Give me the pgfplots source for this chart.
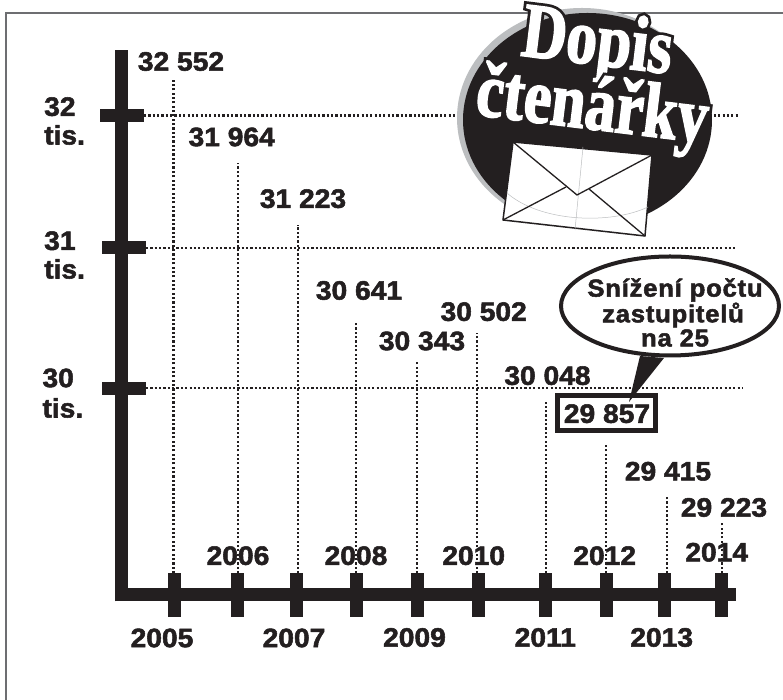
\documentclass[border=0pt]{standalone}
\usepackage{fontspec}
\usepackage{pgfplots}
\usepackage{pgfplotstable}
\pgfplotsset{compat=1.18}
\newfontfamily\lf[FakeStretch=1.06,FakeBold=2]{Liberation Sans}
\newfontfamily\cf[FakeStretch=1.05,FakeBold=2,LetterSpace=3]{Liberation Sans}
\newfontfamily\tfa[FakeStretch=0.79,FakeBold=2]{Liberation Serif}
\newfontfamily\tfb[FakeStretch=0.79,FakeBold=9]{Liberation Serif}
\definecolor{ink}{HTML}{231F20}
\definecolor{halo}{HTML}{BCBEC0}
\definecolor{frame}{HTML}{6D6E71}

% x is the position along the axis, top is the height of the dotted line read against the ticks
\pgfplotstableread{
year dotx top
2005 173.5 32260
2006 238.0 31651
2007 298.0 31196
2008 356.0 30477
2009 416.7 30198
2010 477.0 30404
2011 546.0 29897
2012 605.7 29589
2013 666.7 29200
2014 721.7 29009
}\drops

\tikzset{
  dots/.style={ink,line width=2.4bp,dash pattern=on 2.2bp off 2.15bp},
  num/.style={font=\fontsize{26.6bp}{28bp}\lf\bfseries,text=ink,inner sep=0pt},
  call/.style={font=\fontsize{24.5bp}{26bp}\cf\bfseries,text=ink,inner sep=0pt},
}

\begin{document}
\begin{tikzpicture}
\useasboundingbox (0,0) rectangle (783bp,700bp);
\begin{axis}[
  at={(121.5bp,105bp)},anchor=south west,
  scale only axis,width=614.5bp,height=545bp,
  xmin=121.5,xmax=736,ymin=28481,ymax=32481,
  clip=false,axis on top,
  axis lines=left,
  x axis line style={-,ink,line width=13bp,shorten <=-6.5bp},
  y axis line style={-,ink,line width=13bp,shorten <=-6.5bp},
  xtick={174,237.3,296.7,356,417,478.3,545.7,606,664.3,721},
  ytick=\empty,
  xticklabels={},
  tick align=center,tick pos=left,
  major tick length=43bp,
  every tick/.style={ink,line width=13bp},
]
% dotted grid
\addplot[dots] coordinates {(144,32000)(738,32000)};
\addplot[dots] coordinates {(146,31028)(735,31028)};
\addplot[dots] coordinates {(146,30000)(743,30000)};
% drop lines
\addplot[ycomb,dots] table[x=dotx,y=top] {\drops};
% y ticks
\addplot[ink,line width=13bp] coordinates {(100,32000)(144,32000)};
\addplot[ink,line width=13bp] coordinates {(102,31028)(146,31028)};
\addplot[ink,line width=13bp] coordinates {(102,30000)(146,30000)};
\end{axis}

\begin{scope}[shift={(0,700bp)},x=1bp,y=-1bp]
% frame
\draw[frame,line width=1.4bp] (6,700)--(6,13)--(783,13);

% y labels
\node[num,anchor=west] at (44,106.7) {32};
\node[num,anchor=west] at (44,135) {tis.};
\node[num,anchor=west] at (44,240.8) {31};
\node[num,anchor=west] at (44,269) {tis.};
\node[num,anchor=west] at (42.3,378) {30};
\node[num,anchor=west] at (42.3,408) {tis.};

% values
\node[num] at (181,61.5) {32 552};
\node[num] at (231.7,137) {31 964};
\node[num] at (303,198.7) {31 223};
\node[num] at (359,290.5) {30 641};
\node[num] at (422,341) {30 343};
\node[num] at (483.7,311.7) {30 502};
\node[num] at (547.5,375.7) {30 048};
\node[num] at (668,471.3) {29 415};
\node[num] at (724,507.5) {29 223};

% years
\node[num] at (162,638) {2005};
\node[num] at (238,555.7) {2006};
\node[num] at (294,638) {2007};
\node[num] at (356,555.7) {2008};
\node[num] at (414.5,637.5) {2009};
\node[num] at (473.7,555.7) {2010};
\node[num] at (545.3,637.5) {2011};
\node[num] at (604.7,555.7) {2012};
\node[num] at (661.7,637.5) {2013};
\node[num] at (716.7,552.3) {2014};

% boxed value
\draw[ink,fill=white,line width=4.5bp] (557.3,395.3) rectangle (655.7,430.7);
\node[num] at (607,413.7) {29 857};

% callout
\draw[ink,fill=white,line width=4bp] (670,306) ellipse [x radius=109,y radius=49.5];
\fill[ink] (640,356)--(664,358)--(629,402)--cycle;
\node[call] at (675,290) {Snížení počtu};
\node[call] at (673,315) {zastupitelů};
\node[call] at (675,338) {na 25};

% badge
\fill[halo] (582,118) ellipse [x radius=125,y radius=110];
\fill[ink] (587.5,120) ellipse [x radius=124.5,y radius=107];
\filldraw[ink,fill=white,line width=1.5bp,line join=round] (513,142)--(652,155)--(645,236)--(503,220)--cycle;
\draw[halo,line width=.5bp] (583,147)--(575,230);
\draw[halo,line width=.5bp] (507,193) .. controls (540,222) and (610,225) .. (648,207);
\draw[ink,line width=1.3bp] (513,142)--(577,195)--(652,155);
\draw[ink,line width=1.3bp] (503,220)--(566,187);
\draw[ink,line width=1.3bp] (589,189)--(645,236);

\node[font=\fontsize{78bp}{78bp}\tfb\bfseries,text=ink,rotate=-7,inner sep=0pt] at (597,46) {Dopis};
\node[font=\fontsize{78bp}{78bp}\tfa\bfseries,text=white,rotate=-7,inner sep=0pt] at (597,46) {Dopis};
\node[font=\fontsize{78bp}{78bp}\tfb\bfseries,text=ink,rotate=-7,inner sep=0pt] at (592,110) {čtenářky};
\node[font=\fontsize{78bp}{78bp}\tfa\bfseries,text=white,rotate=-7,inner sep=0pt] at (592,110) {čtenářky};
\end{scope}
\end{tikzpicture}
\end{document}
